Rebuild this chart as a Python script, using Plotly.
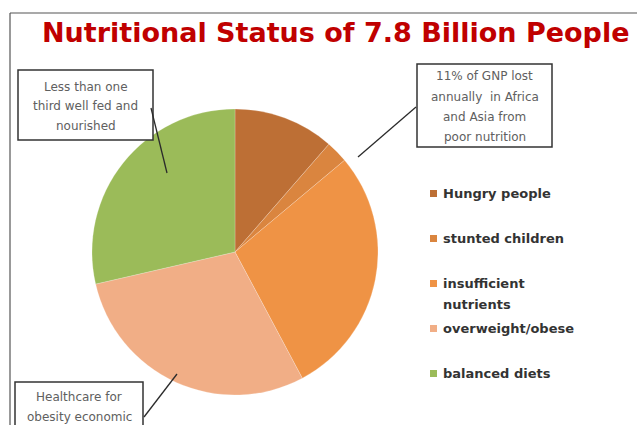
import plotly.graph_objects as go

W, H = 637, 425

categories = ["Hungry people", "stunted children", "insufficient<br>nutrients", "overweight/obese", "balanced diets"]
legend_labels = [["Hungry people"], ["stunted children"], ["insufficient", "nutrients"], ["overweight/obese"], ["balanced diets"]]
values = [11.4, 2.5, 28.3, 29.2, 28.6]
colors = ["#bd6f35", "#da853f", "#ef9345", "#f1ae86", "#9bbb59"]

title_text = "Nutritional Status of 7.8 Billion People"
callouts = [
    {"lines": ["Less than one", "third well fed and", "nourished"], "box": (18, 70, 153, 140),
     "ys": [87, 106, 126], "line": ((151, 108), (167, 173))},
    {"lines": ["11% of GNP lost", "annually  in Africa", "and Asia from", "poor nutrition"], "box": (417, 64, 552, 147),
     "ys": [76, 97, 117, 137], "line": ((416, 107), (358, 157))},
    {"lines": ["Healthcare for", "obesity economic"], "box": (15, 382, 143, 440),
     "ys": [397, 417], "line": ((144, 417), (177, 374))},
]


def px(x):
    return x / W


def py(y):
    return 1 - y / H


fig = go.Figure()
fig.add_trace(go.Pie(
    labels=categories, values=values, sort=False, direction="clockwise", rotation=0,
    marker=dict(colors=colors, line=dict(color="rgba(255,255,255,0.35)", width=0.6)),
    textinfo="none", hoverinfo="label+percent", showlegend=False,
    domain=dict(x=[px(89), px(381)], y=[py(395), py(109)]),
))

shapes = []
annotations = []

# outer frame
shapes.append(dict(type="line", xref="paper", yref="paper", x0=px(10), y0=py(13), x1=1.01, y1=py(13),
                   line=dict(color="#555555", width=1.2)))
shapes.append(dict(type="line", xref="paper", yref="paper", x0=px(10), y0=py(13), x1=px(10), y1=-0.01,
                   line=dict(color="#555555", width=1.2)))

annotations.append(dict(text="<b>" + title_text + "</b>", x=px(40), y=py(33), xref="paper", yref="paper",
                        xanchor="left", yanchor="middle", showarrow=False,
                        font=dict(family="DejaVu Sans", size=27, color="#c00000")))

for c in callouts:
    x0, y0, x1, y1 = c["box"]
    shapes.append(dict(type="rect", xref="paper", yref="paper", x0=px(x0), y0=py(y0), x1=px(x1), y1=py(y1),
                       line=dict(color="#333333", width=1.5), fillcolor="white"))
    (lx0, ly0), (lx1, ly1) = c["line"]
    shapes.append(dict(type="line", xref="paper", yref="paper", x0=px(lx0), y0=py(ly0), x1=px(lx1), y1=py(ly1),
                       line=dict(color="#2b2b2b", width=1.3)))
    cx = (x0 + x1) / 2
    for t, yy in zip(c["lines"], c["ys"]):
        annotations.append(dict(text=t, x=px(cx), y=py(yy), xref="paper", yref="paper",
                                xanchor="center", yanchor="middle", showarrow=False,
                                font=dict(family="DejaVu Sans", size=12, color="#606060")))

# legend
leg_y = [193, 238, 283, 328, 373]
for lab, col, yy in zip(legend_labels, colors, leg_y):
    shapes.append(dict(type="rect", xref="paper", yref="paper", x0=px(430), y0=py(yy + 4), x1=px(437), y1=py(yy - 3),
                       line=dict(width=0), fillcolor=col))
    for i, t in enumerate(lab):
        annotations.append(dict(text="<b>" + t + "</b>", x=px(441), y=py(yy + 21 * i), xref="paper", yref="paper",
                                xanchor="left", yanchor="middle", showarrow=False,
                                font=dict(family="DejaVu Sans", size=13, color="#333333")))

fig.update_layout(
    width=W, height=H, margin=dict(l=0, r=0, t=0, b=0),
    paper_bgcolor="white", plot_bgcolor="white",
    shapes=shapes, annotations=annotations,
)

fig.write_html("out.html")
